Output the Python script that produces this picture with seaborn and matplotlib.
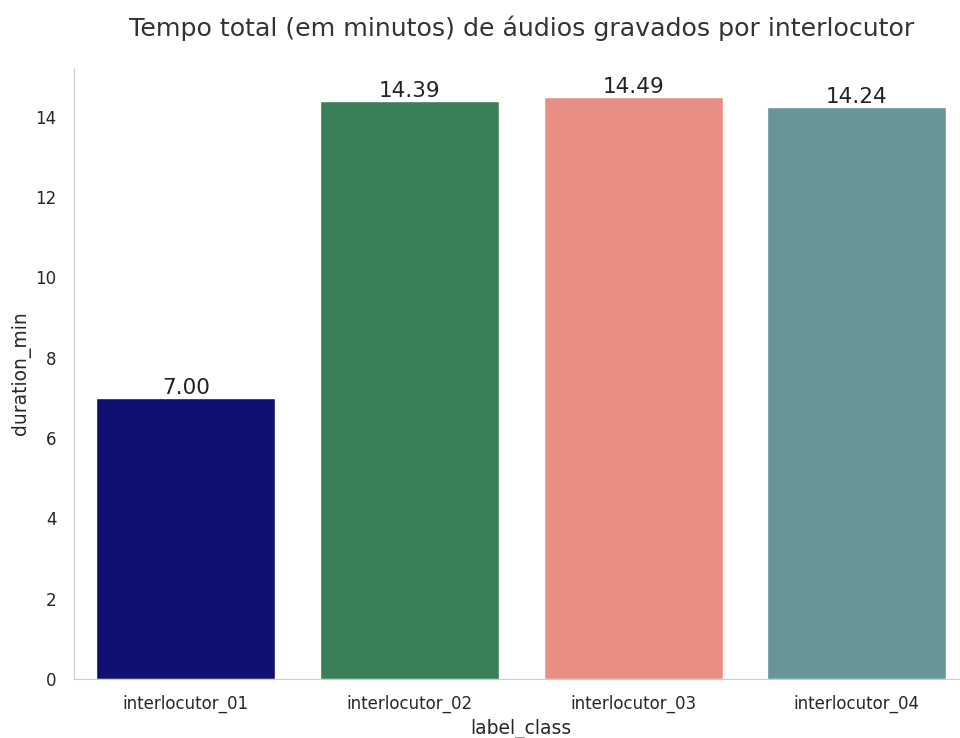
import matplotlib
matplotlib.use('Agg')
import matplotlib.pyplot as plt
import seaborn as sns
import pandas as pd

label_class = ['interlocutor_01', 'interlocutor_02', 'interlocutor_03', 'interlocutor_04']
duration_min = [7.00, 14.39, 14.49, 14.24]
colors = ['navy', 'seagreen', 'salmon', 'cadetblue']

df = pd.DataFrame({'label_class': label_class, 'duration_min': duration_min})

sns.set_style('whitegrid')
plt.rcParams['font.family'] = ['DejaVu Sans']
fig, ax = plt.subplots(figsize=(9.6, 7.38), dpi=100)
fig.subplots_adjust(left=0.077, right=1.009, top=0.908, bottom=0.08)
sns.barplot(data=df, x='label_class', y='duration_min', hue='label_class',
            palette=colors, legend=False, ax=ax)
ax.grid(False)
sns.despine(ax=ax)
for c in ax.containers:
    ax.bar_label(c, fmt='%.2f', fontsize=15.5, color='#222222', padding=0)
ax.set_title('Tempo total (em minutos) de áudios gravados por interlocutor',
             fontsize=18.2, color='#333333', pad=23)
ax.tick_params(axis='both', labelsize=12)
ax.tick_params(axis='y', pad=9)
ax.tick_params(axis='x', pad=8)
ax.set_xlabel('label_class', fontsize=13.5)
ax.set_ylabel('duration_min', fontsize=13.5, labelpad=3)
fig.savefig('out.png', dpi=100)
